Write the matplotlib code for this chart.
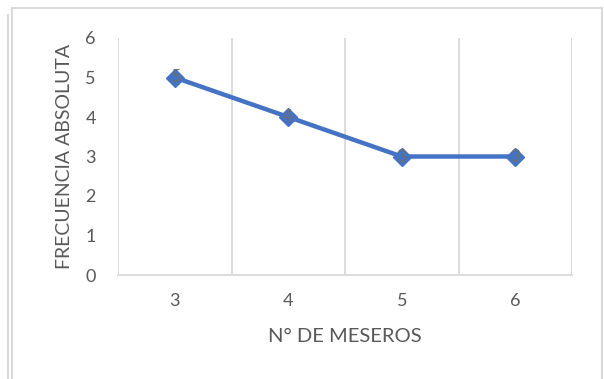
import matplotlib.pyplot as plt
from matplotlib.lines import Line2D

meseros = ['3', '4', '5', '6']
frecuencia = [5, 4, 3, 3]
y_ticks = [0, 1, 2, 3, 4, 5, 6]

W, H = 604, 379
plt.rcParams['font.family'] = ['Lato', 'DejaVu Sans']

fig = plt.figure(figsize=(W / 100, H / 100), dpi=100)
ax = fig.add_axes([118 / W, 1 - 275 / H, (572 - 118) / W, (275 - 38) / H])

x = list(range(len(meseros)))
ax.plot(x, frecuencia, color='#4472C4', linewidth=3.2, marker='D', markersize=9,
        markerfacecolor='#4472C4', markeredgecolor='#4472C4', zorder=3)
for xi, v in zip(x, frecuencia):
    ax.text(xi, v, str(v), ha='center', va='center', color='#6E6E6E', fontsize=12.5, zorder=4)

ax.set_xlim(-0.5, len(meseros) - 0.5)
ax.set_ylim(0, 6)
ax.set_yticks(y_ticks)
ax.set_xticks(x)
ax.set_xticklabels(meseros)
ax.set_xticks([i - 0.5 for i in range(len(meseros) + 1)], minor=True)
ax.grid(True, which='minor', axis='x', color='#D9D9D9', linewidth=1.3)
ax.tick_params(which='both', length=0, labelsize=13, colors='#595959')
ax.tick_params(axis='y', pad=16)
ax.tick_params(axis='x', pad=13)
for s in ['top', 'right', 'left']:
    ax.spines[s].set_visible(False)
ax.spines['bottom'].set_color('#D9D9D9')
ax.spines['bottom'].set_linewidth(1.3)

ax.set_xlabel('N° DE MESEROS', fontsize=14.5, color='#595959', labelpad=14)
ax.set_ylabel('FRECUENCIA ABSOLUTA', fontsize=14, color='#595959', labelpad=9)

# chart borders
def fline(x0, y0, x1, y1):
    fig.add_artist(Line2D([x0 / W, x1 / W], [1 - y0 / H, 1 - y1 / H], color='#D9D9D9', linewidth=1.5))

fline(12, 8, 602, 8)
fline(12, 8, 12, 379)
fline(602, 8, 602, 379)
fline(8, 15, 8, 379)

fig.savefig('out.png', dpi=100)
